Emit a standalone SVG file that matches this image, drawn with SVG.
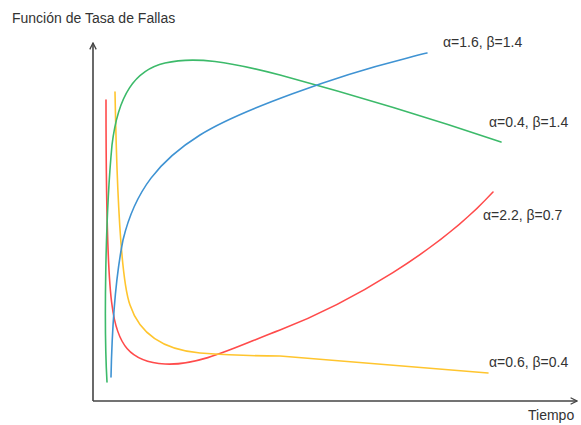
<svg xmlns="http://www.w3.org/2000/svg" width="581" height="425" viewBox="0 0 581 425">
<defs>
<style>
.t{font-family:"Liberation Sans",Arial,sans-serif;font-size:14px;fill:#333}
.c{fill:none;stroke-width:1.6;stroke-linecap:round;stroke-linejoin:round}
.ax{fill:none;stroke:#444;stroke-width:1.6}
</style>
<marker id="ah" viewBox="0 0 10 10" refX="9" refY="5" markerWidth="8" markerHeight="8" markerUnits="userSpaceOnUse" orient="auto">
<path d="M1,1 L9,5 L1,9" fill="none" stroke="#444" stroke-width="1.6"/>
</marker>
</defs>
<rect width="581" height="425" fill="#fff"/>
<g id="axes">
<path class="ax" d="M93,401 L93,43" marker-end="url(#ah)"/>
<path class="ax" d="M93,401 L577,401" marker-end="url(#ah)"/>
</g>
<g id="curves">
<path id="red" class="c" stroke="#FF4B4B" d="M106,100 C106,180 107,270 112,305 C117,345 130,362 165,364 C200,366 240,345 280,330 C350,303 440,250 493,192"/>
<path id="yellow" class="c" stroke="#FFC52E" d="M115,92 C117,200 121,280 130,305 C140,335 165,350 200,353 C230,355 260,356 280,356 C350,362 420,368 488,373"/>
<path id="green" class="c" stroke="#3CBA6A" d="M107,382 C104,330 105,220 112,145 C118,95 135,70 165,63 C195,56 230,62 280,75 C350,94 430,118 501,142"/>
<path id="blue" class="c" stroke="#3F93D3" d="M111,377 C112,330 115,280 123,240 C135,190 160,160 200,135 C240,110 340,75 400,60 C412,57 420,54 427,53"/>
</g>
<g id="labels">
<text class="t" x="12" y="23" font-size="16">Función de Tasa de Fallas</text>
<text class="t" x="443" y="47">α=1.6, β=1.4</text>
<text class="t" x="489" y="127">α=0.4, β=1.4</text>
<text class="t" x="483" y="220">α=2.2, β=0.7</text>
<text class="t" x="489" y="367">α=0.6, β=0.4</text>
<text class="t" x="528" y="420" font-size="16">Tiempo</text>
</g>
</svg>
